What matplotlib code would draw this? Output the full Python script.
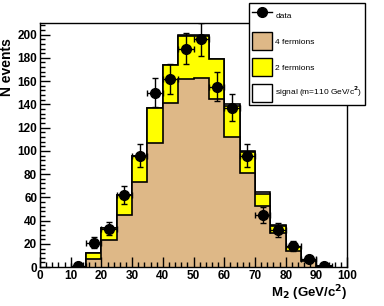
import matplotlib
matplotlib.use('Agg')
import matplotlib.pyplot as plt
import numpy as np
from matplotlib.patches import Patch
from matplotlib.lines import Line2D
from matplotlib.ticker import MultipleLocator

# bins of 5 GeV/c^2 from 10 to 95
edges = [10, 15, 20, 25, 30, 35, 40, 45, 50, 55, 60, 65, 70, 75, 80, 85, 90, 95]
four_ferm = [0, 7, 23, 45, 73, 107, 141, 162, 163, 145, 112, 81, 53, 29, 14, 5, 0]
two_ferm = [0, 5, 11, 17, 23, 30, 33, 37, 36, 34, 27, 18, 10, 6, 3, 1, 1]
signal = [0, 0, 0, 0, 0, 0, 0, 1, 1, 0, 1, 1, 2, 1, 0, 0, 0]

data_x = [12.5, 17.5, 22.5, 27.5, 32.5, 37.5, 42.5, 47.5, 52.5, 57.5, 62.5, 67.5, 72.5, 77.5, 82.5, 87.5, 92.5]
data_y = [1, 21, 33, 62, 96, 150, 162, 188, 196, 155, 137, 96, 45, 32, 18, 7, 1]

tan = '#deb887'
yellow = '#ffff00'

plt.rcParams['mathtext.default'] = 'bf'

fig = plt.figure(figsize=(3.84, 3.06), dpi=100)
ax = fig.add_axes([0.104, 0.127, 0.800, 0.798])

bkg = np.array(four_ferm) + np.array(two_ferm)
tot = bkg + np.array(signal)
ax.stairs(tot, edges, fill=True, facecolor='white', edgecolor='black', lw=1.2)
ax.stairs(bkg, edges, fill=True, facecolor=yellow, edgecolor='black', lw=1.2)
ax.stairs(four_ferm, edges, fill=True, facecolor=tan, edgecolor='black', lw=1.2)

yerr = np.sqrt(data_y)
ax.errorbar(data_x, data_y, yerr=yerr, xerr=2.5, fmt='o', color='black',
            markersize=7, capsize=2, elinewidth=1, capthick=1, zorder=5)

ax.set_xlim(0, 100)
ax.set_ylim(0, 210)
ax.xaxis.set_major_locator(MultipleLocator(10))
ax.xaxis.set_minor_locator(MultipleLocator(2))
ax.yaxis.set_major_locator(MultipleLocator(20))
ax.yaxis.set_minor_locator(MultipleLocator(4))
ax.tick_params(which='both', direction='in', top=False, right=False)
ax.tick_params(which='major', length=7, width=1)
ax.tick_params(which='minor', length=3.5, width=1)
ax.tick_params(axis='both', labelsize=8.5, pad=2)
for lab in ax.get_xticklabels() + ax.get_yticklabels():
    lab.set_fontweight('bold')
    lab.set_family('Liberation Sans')
for s in ax.spines.values():
    s.set_linewidth(1)

ax.set_ylabel('N events', fontsize=10, fontweight='bold', family='Liberation Sans')
ax.yaxis.set_label_coords(-0.085, 0.82)
ax.set_xlabel('M$_2$ (GeV/c$^2$)', fontsize=9.5, fontweight='bold',
              family='Liberation Sans', ha='right')
ax.xaxis.set_label_coords(1.0, -0.065)

handles = [Line2D([0], [0], color='black', marker='o', markersize=7, lw=1),
           Patch(facecolor=tan, edgecolor='black', lw=1),
           Patch(facecolor=yellow, edgecolor='black', lw=1),
           Patch(facecolor='white', edgecolor='black', lw=1)]
labels = ['data', '4 fermions', '2 fermions', 'signal (m=110 GeV/c$^2$)']
leg = fig.legend(handles, labels, loc='upper left',
                 bbox_to_anchor=(0.648, 0.66, 0.303, 0.33), mode='expand',
                 prop={'family': 'Liberation Sans', 'size': 6},
                 handlelength=2.4, handleheight=3.0, labelspacing=0.9,
                 handletextpad=0.4, borderaxespad=0, fancybox=False,
                 framealpha=1, edgecolor='black', borderpad=0.4)
leg.get_frame().set_linewidth(1)

fig.savefig('out.png', dpi=100)
